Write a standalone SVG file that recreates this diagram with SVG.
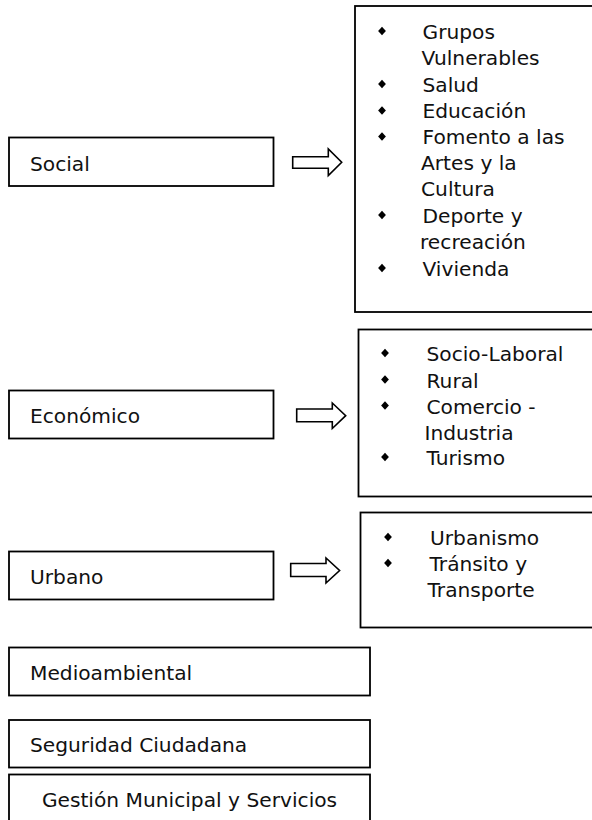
<svg xmlns="http://www.w3.org/2000/svg" width="592" height="820" viewBox="0 0 592 820">
<style>
  .box { fill: #ffffff; stroke: #000000; stroke-width: 1.8; }
  .arrow { fill: #ffffff; stroke: #000000; stroke-width: 1.6; stroke-linejoin: miter; }
  .t { font-family: "DejaVu Sans", "Liberation Sans", sans-serif; font-size: 20.2px; fill: #111111; }
  .bul { fill: #000000; }
</style>
<defs>
  <polygon id="dia" points="0,-4.3 3.9,0 0,4.3 -3.9,0"/>
</defs>
<rect x="0" y="0" width="592" height="820" fill="#ffffff"/>

<g id="social">
  <rect class="box" x="9" y="137.5" width="264.5" height="48.5"/>
  <text class="t" x="30" y="171">Social</text>
</g>
<g id="social-items">
  <rect class="box" x="355" y="6" width="250" height="306"/>
  <use href="#dia" class="bul" x="382" y="31"/>
  <use href="#dia" class="bul" x="382" y="84"/>
  <use href="#dia" class="bul" x="382" y="110.5"/>
  <use href="#dia" class="bul" x="382" y="136.5"/>
  <use href="#dia" class="bul" x="382" y="215"/>
  <use href="#dia" class="bul" x="382" y="268"/>
  <text class="t" x="422.5" y="39">Grupos</text>
  <text class="t" x="421.5" y="65">Vulnerables</text>
  <text class="t" x="422.5" y="91.5">Salud</text>
  <text class="t" x="422.5" y="118">Educación</text>
  <text class="t" x="422.5" y="144">Fomento a las</text>
  <text class="t" x="421" y="170">Artes y la</text>
  <text class="t" x="421" y="196">Cultura</text>
  <text class="t" x="422.5" y="222.5">Deporte y</text>
  <text class="t" x="420" y="249">recreación</text>
  <text class="t" x="422.5" y="276">Vivienda</text>
</g>

<g id="economico">
  <rect class="box" x="9" y="390.5" width="264.5" height="48"/>
  <text class="t" x="30" y="423">Económico</text>
</g>
<g id="economico-items">
  <rect class="box" x="358.5" y="329.5" width="250" height="167"/>
  <use href="#dia" class="bul" x="385" y="353"/>
  <use href="#dia" class="bul" x="385" y="379.5"/>
  <use href="#dia" class="bul" x="385" y="405.5"/>
  <use href="#dia" class="bul" x="385" y="457"/>
  <text class="t" x="426.5" y="361">Socio-Laboral</text>
  <text class="t" x="426.5" y="387.5">Rural</text>
  <text class="t" x="426.5" y="413.5">Comercio -</text>
  <text class="t" x="424.5" y="439.5">Industria</text>
  <text class="t" x="426.5" y="465">Turismo</text>
</g>

<g id="urbano">
  <rect class="box" x="9" y="551.5" width="264.5" height="48"/>
  <text class="t" x="30" y="584">Urbano</text>
</g>
<g id="urbano-items">
  <rect class="box" x="360.5" y="512.5" width="250" height="115"/>
  <use href="#dia" class="bul" x="388" y="537"/>
  <use href="#dia" class="bul" x="388" y="563"/>
  <text class="t" x="430" y="545">Urbanismo</text>
  <text class="t" x="429.5" y="571">Tránsito y</text>
  <text class="t" x="427.5" y="597">Transporte</text>
</g>

<g id="medioambiental">
  <rect class="box" x="9" y="647.5" width="361" height="48"/>
  <text class="t" x="30" y="680">Medioambiental</text>
</g>
<g id="seguridad">
  <rect class="box" x="9" y="720" width="361" height="47.5"/>
  <text class="t" x="30" y="752">Seguridad Ciudadana</text>
</g>
<g id="gestion">
  <rect class="box" x="9" y="774.5" width="361" height="60"/>
  <text class="t" x="189.5" y="807" text-anchor="middle">Gestión Municipal y Servicios</text>
</g>

<g id="connectors">
  <polygon class="arrow" points="292.7,156.7 328.3,156.7 328.3,149 341.7,162.3 328.3,175.5 328.3,168.3 292.7,168.3"/>
  <polygon class="arrow" points="296.7,409 332.3,409 332.3,403 345.7,415.7 332.3,428.5 332.3,421.7 296.7,421.7"/>
  <polygon class="arrow" points="290.7,563.5 326,563.5 326,558 339.6,570.5 326,583 326,576.5 290.7,576.5"/>
</g>
</svg>
